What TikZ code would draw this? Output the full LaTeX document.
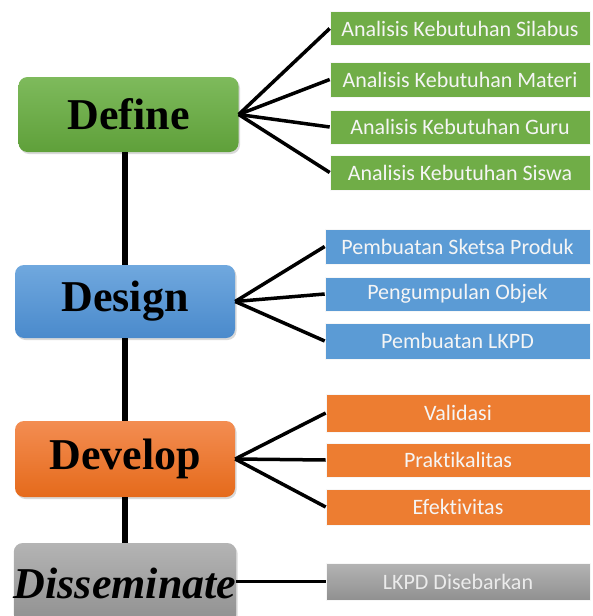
\documentclass[tikz,border=0pt]{standalone}
\usepackage{fontspec}
\setmainfont{Liberation Serif}
\newfontfamily\calib[Ligatures={NoCommon}]{Carlito}
\usetikzlibrary{shadows}
\definecolor{gmid}{HTML}{70AD47}
\definecolor{gtop}{HTML}{7EBA5C}
\definecolor{gbot}{HTML}{5FA03A}
\definecolor{bmid}{HTML}{5B9BD5}
\definecolor{btop}{HTML}{70A8DE}
\definecolor{bbot}{HTML}{4A8ACC}
\definecolor{omid}{HTML}{ED7D31}
\definecolor{otop}{HTML}{F38D52}
\definecolor{obot}{HTML}{E56A1B}
\definecolor{kmid}{HTML}{A5A5A5}
\definecolor{ktop}{HTML}{B4B4B4}
\definecolor{kbot}{HTML}{909090}
\begin{document}
\begin{tikzpicture}[x=1pt,y=-1pt,
  phase/.style={rounded corners=9pt, minimum width=220pt, inner sep=0pt,
    font=\fontsize{44}{44}\selectfont\bfseries,
    drop shadow={opacity=0.3, shadow xshift=1.5pt, shadow yshift=-2pt}},
  task/.style={minimum height=34pt, inner sep=0pt, draw=white!70!black!10, line width=0.6pt,
    font=\calib\fontsize{22}{22}\selectfont, text=white!96!black},
  link/.style={line width=3.5pt},
  spine/.style={line width=6.5pt}]
\useasboundingbox (0,0) rectangle (592,616);

% phase boxes
\node[phase, top color=gtop, bottom color=gbot, minimum height=75pt] (define) at (128.5,114.5) {Define};
\node[phase, top color=btop, bottom color=bbot, minimum height=73pt] (design) at (125,301.5) {Design};
\node[phase, top color=otop, bottom color=obot, minimum height=76pt] (develop) at (125,459) {Develop};
\node[phase, top color=ktop, bottom color=kbot, minimum height=80pt, font=\fontsize{44}{44}\selectfont\bfseries\itshape] (dissem) at (125,583) {Disseminate};

% spine
\draw[spine] (define.south -| design.north) -- (design.north);
\draw[spine] (design.south) -- (develop.north);
\draw[spine] (develop.south) -- (dissem.north);

% define tasks
\node[task, fill=gmid, minimum width=260pt] (d1) at (460,28.5) {Analisis Kebutuhan Silabus};
\node[task, fill=gmid, minimum width=260pt, minimum height=35pt] (d2) at (460,79.5) {Analisis Kebutuhan Materi};
\node[task, fill=gmid, minimum width=260pt] (d3) at (460,127) {Analisis Kebutuhan Guru};
\node[task, fill=gmid, minimum width=260pt, minimum height=35pt] (d4) at (460,172.5) {Analisis Kebutuhan Siswa};

% design tasks
\node[task, fill=bmid, minimum width=265pt, minimum height=35pt] (s1) at (457.5,246.5) {Pembuatan Sketsa Produk};
\node[task, fill=bmid, minimum width=265pt] (s2) at (457.5,294) {Pengumpulan Objek};
\node[task, fill=bmid, minimum width=265pt, minimum height=36pt] (s3) at (457.5,341) {Pembuatan LKPD};

% develop tasks
\node[task, fill=omid, minimum width=264pt, minimum height=38pt] (v1) at (458,413) {Validasi};
\node[task, fill=omid, minimum width=264pt] (v2) at (458,460) {Praktikalitas};
\node[task, fill=omid, minimum width=264pt, minimum height=36pt] (v3) at (458,507) {Efektivitas};

% disseminate task
\node[task, top color=ktop, bottom color=kbot, minimum width=264pt, minimum height=37pt, text=white!92!black] (l1) at (458,581.5) {LKPD Disebarkan};

% links
\foreach \t in {d1,d2,d3,d4} \draw[link] (define.east) -- (\t.west);
\foreach \t in {s1,s2,s3} \draw[link] (design.east) -- (\t.west);
\foreach \t in {v1,v2,v3} \draw[link] (develop.east) -- (\t.west);
\draw[link] (dissem.east |- l1.west) -- (l1.west);
\end{tikzpicture}
\end{document}
